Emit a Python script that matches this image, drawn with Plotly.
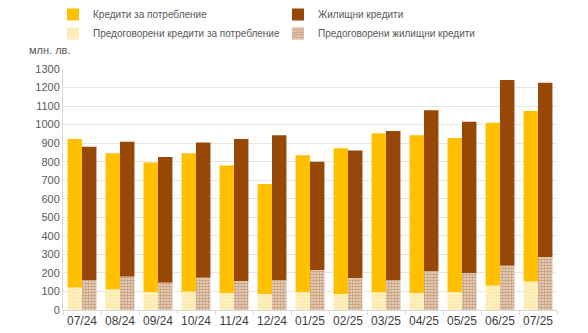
import plotly.graph_objects as go

months = ["07/24", "08/24", "09/24", "10/24", "11/24", "12/24", "01/25",
          "02/25", "03/25", "04/25", "05/25", "06/25", "07/25"]

# New loans, total (million BGN)
consumer_total = [922, 845, 795, 845, 780, 680, 835, 872, 953, 942, 928, 1010, 1073]
housing_total = [881, 908, 825, 903, 922, 942, 800, 861, 965, 1077, 1016, 1240, 1226]

# of which renegotiated
consumer_reneg = [120, 111, 97, 99, 90, 86, 97, 86, 95, 90, 97, 131, 153]
housing_reneg = [162, 180, 147, 174, 156, 162, 214, 171, 162, 210, 198, 239, 284]

consumer_new = [t - r for t, r in zip(consumer_total, consumer_reneg)]
housing_new = [t - r for t, r in zip(housing_total, housing_reneg)]

YELLOW = "#FFC000"
BROWN = "#974706"
GRAY = "#595959"

fig = go.Figure()

fig.add_trace(go.Bar(
    x=months, y=consumer_new, base=consumer_reneg, offsetgroup="c",
    name="Кредити за потребление", marker=dict(color=YELLOW, line_width=0),
))
fig.add_trace(go.Bar(
    x=months, y=housing_new, base=housing_reneg, offsetgroup="h",
    name="Жилищни кредити", marker=dict(color=BROWN, line_width=0),
))
fig.add_trace(go.Bar(
    x=months, y=consumer_reneg, offsetgroup="c",
    name="Предоговорени кредити за потребление",
    marker=dict(color="#FFEBA8", line_width=0,
                pattern=dict(shape=".", fgcolor="#FFD760", bgcolor="#FFF6DA",
                             size=3, solidity=0.6)),
))
fig.add_trace(go.Bar(
    x=months, y=housing_reneg, offsetgroup="h",
    name="Предоговорени жилищни кредити",
    marker=dict(color="#C9A07C", line_width=0,
                pattern=dict(shape=".", fgcolor="#A0602E", bgcolor="#EEDCCB",
                             size=3, solidity=0.65)),
))

fig.update_layout(
    width=588, height=333,
    margin=dict(l=63, r=31, t=69, b=23, autoexpand=False),
    paper_bgcolor="white", plot_bgcolor="white",
    barmode="group", bargap=0.24, bargroupgap=0,
    font=dict(family="Liberation Sans, Arial, sans-serif", size=11, color=GRAY),
    showlegend=True,
    legend=dict(
        orientation="h", x=53 / 588, xanchor="left", y=1, yanchor="top",
        xref="container", yref="container",
        entrywidth=180, entrywidthmode="pixels",
        itemwidth=30, font=dict(size=10, color=GRAY),
        tracegroupgap=0, traceorder="normal",
        bgcolor="rgba(0,0,0,0)",
    ),
    xaxis=dict(
        type="category", showgrid=False, showline=True, linecolor="#D9D9D9",
        ticks="outside", tickson="boundaries", ticklen=4, tickcolor="#D9D9D9",
        tickangle=0, tickfont=dict(size=12, color="#404040"),
    ),
    yaxis=dict(
        range=[0, 1300], dtick=100, showgrid=True, gridcolor="#E6E6E6",
        showline=True, linecolor="#D9D9D9", zeroline=False,
        tickfont=dict(size=11, color=GRAY), ticks="",
    ),
    annotations=[dict(
        text="млн. лв.", xref="paper", yref="paper", x=(27 - 63) / 494,
        y=1, yshift=19, xanchor="left", yanchor="middle", showarrow=False,
        font=dict(size=11, color=GRAY),
    )],
)

fig.write_html("out.html")
